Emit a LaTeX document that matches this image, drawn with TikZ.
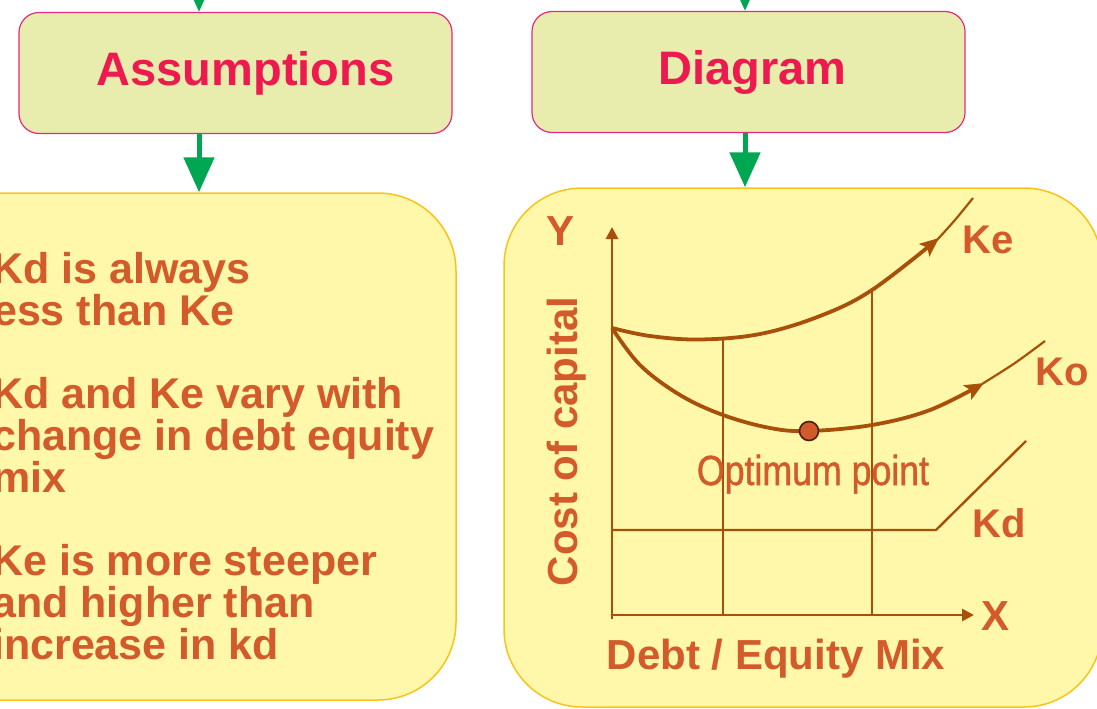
\documentclass[tikz,border=0pt]{standalone}
\usepackage{fontspec}
\setmainfont{Liberation Sans}
\newfontfamily\narrowfont[FakeBold=1.2]{Liberation Sans}
\usepackage{xcolor}
\usepackage{graphicx}
\usetikzlibrary{positioning,arrows.meta}

\definecolor{panelfill}{HTML}{FFF7A9}
\definecolor{panelline}{HTML}{F9C41A}
\definecolor{headfill}{HTML}{E8EDAE}
\definecolor{headline}{HTML}{E6287F}
\definecolor{headtext}{HTML}{EC1A4F}
\definecolor{flowgreen}{HTML}{00A651}
\definecolor{txtorange}{HTML}{D35A2A}
\definecolor{curvebrown}{HTML}{A8500A}
\definecolor{dotline}{HTML}{4A2010}

\begin{document}
\begin{tikzpicture}[x=1pt, y=-1pt,
    heading/.style={rectangle, draw=headline, fill=headfill, line width=1.2pt, rounded corners=20pt, minimum width=433pt, minimum height=121pt, text=headtext, font=\fontsize{47}{50}\selectfont\bfseries},
    panel/.style={rectangle, draw=panelline, fill=panelfill, line width=1.5pt, rounded corners=78pt},
    bullet/.style={anchor=north west, inner sep=0pt, align=left, text=txtorange, font=\fontsize{43}{42}\selectfont\bfseries},
    axislabel/.style={inner sep=0pt, text=txtorange, font=\fontsize{42}{42}\selectfont\bfseries},
    curvelabel/.style={anchor=base west, inner sep=0pt, text=txtorange, font=\fontsize{40}{40}\selectfont\bfseries},
    flow/.style={-{Triangle[length=35pt, width=30pt]}, line width=5pt, draw=flowgreen},
    axis/.style={-{Triangle[length=12pt, width=12pt]}, line width=2.8pt, draw=curvebrown},
    cost/.style={line width=3.8pt, draw=curvebrown, -{Stealth[length=19pt, width=16pt, inset=4pt]}},
    costend/.style={line width=2.2pt, draw=curvebrown},
    guide/.style={line width=2.1pt, draw=curvebrown}]

\useasboundingbox (0,0) rectangle (1097,709);
\clip (0,0) rectangle (1097,709);

% Left column: assumptions
\coordinate (asmtop) at (199,-60);
\node[heading] (asm) at (235.5,73) {\hspace*{20pt}Assumptions};
\node[panel, minimum width=580pt, minimum height=507pt] (asmlist) at (166,446.5) {};

\draw[flow] (asmtop) -- (asm.north -| asmtop);
\draw[flow] (asm.south -| asmtop) -- (asmlist.north -| asmtop);

\node[bullet] (kdless) at (-8,252.2) {Kd is always\\\hspace*{-11pt}less than Ke};
\node[bullet] (kdvary) at (-8,377.2) {Kd and Ke vary with\\change in debt equity\\mix};
\node[bullet] (kesteep) at (-8,544.2) {Ke is more steeper\\and higher than\\increase in kd};

% Right column: diagram
\coordinate (dgmtop) at (745,-60);
\node[heading] (dgm) at (748.5,72) {\hspace*{8pt}Diagram};
\node[panel, minimum width=598pt, minimum height=519pt] (dgmpanel) at (803,447.5) {};

\draw[flow] (dgmtop) -- (dgm.north -| dgmtop);
\draw[flow] (dgm.south -| dgmtop) -- (dgmpanel.north -| dgmtop);

% Axes and guide lines
\coordinate (origin) at (612,615);
\coordinate (start) at (612,328);
\draw[axis] (612,619) -- (612,227);
\draw[axis] (origin) -- (974,615);
\draw[guide] (723,339.5) -- (723,615);
\draw[guide] (872,290) -- (872,615);
\draw[guide, line width=2.4pt] (612,530) -- (936,530) -- (1026,441);

% Cost curves
\draw[cost] plot[smooth, tension=0.6] coordinates {(start) (650,336) (700,339.5) (760,334) (820,316) (872,290) (939,238)};
\draw[costend] plot[smooth] coordinates {(937,240) (955,220) (973,198)};
\draw[cost] plot[smooth, tension=0.6] coordinates {(start) (640,365) (680,395) (723,415) (770,428) (809,431) (872,425) (930,410) (984,383)};
\draw[costend] plot[smooth] coordinates {(982,384) (1015,363) (1045,341)};

\node[circle, draw=dotline, fill=txtorange, line width=1.6pt, minimum size=19pt, inner sep=0pt] (optimum) at (809,431) {};

% Labels
\node[anchor=base, inner sep=0pt, text=txtorange, font=\fontsize{42}{42}\selectfont\narrowfont] (optlabel) at (813,485) {\scalebox{0.85}[1]{Optimum point}};
\node[axislabel, anchor=base] (ylabel) at (560,245) {Y};
\node[axislabel, anchor=base west] (xlabel) at (981,630) {X};
\node[axislabel, anchor=base, rotate=90] (costlabel) at (577,441.5) {Cost of capital};
\node[axislabel, anchor=base] (mixlabel) at (776,669) {Debt / Equity Mix};
\node[curvelabel] (kelabel) at (962,253) {Ke};
\node[curvelabel] (kolabel) at (1035,385) {Ko};
\node[curvelabel] (kdlabel) at (972,537) {Kd};

\end{tikzpicture}
\end{document}
